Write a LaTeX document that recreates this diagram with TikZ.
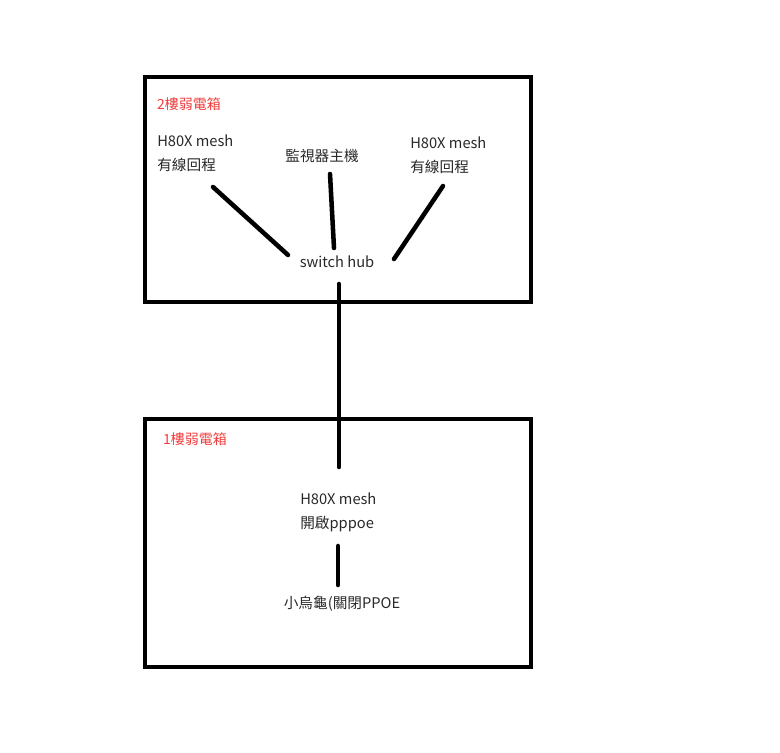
\documentclass[tikz,border=0pt]{standalone}
\usepackage{fontspec}
\setmainfont{Noto Sans CJK TC}
\usepackage{tikz}
\usetikzlibrary{positioning}
\definecolor{boxred}{RGB}{240,60,60}
\definecolor{txtgray}{RGB}{40,40,40}

\begin{document}
\begin{tikzpicture}[x=0.75pt,y=-0.75pt,
		box/.style={draw,line width=3pt},
		wire/.style={line width=3.4pt,line cap=round},
		label node/.style={text=txtgray,font=\fontsize{11}{18}\selectfont,inner sep=0pt},
		floor node/.style={text=boxred,font=\fontsize{10.5}{12}\selectfont,inner sep=0pt}]
		\useasboundingbox (0,0) rectangle (780,752);

		% boxes
		\draw[box] (145,77) rectangle (531,302);
		\draw[box] (145,419) rectangle (531,667);
		\node[floor node] (f2) at (189,104) {2樓弱電箱};
		\node[floor node] (f1) at (195,439) {1樓弱電箱};

		% 2F
		\node[label node,align=left,anchor=west] (meshl) at (157,153) {H80X mesh\\有線回程};
		\node[label node] (nvr) at (322,156) {監視器主機};
		\node[label node,align=left,anchor=west] (meshr) at (410,155) {H80X mesh\\有線回程};
		\node[label node] (hub) at (337,262) {switch hub};

		% 1F
		\node[label node,align=left,anchor=west] (mesh1) at (300,512) {H80X mesh\\開啟pppoe};
		\node[label node] (turtle) at (342,604) {小烏龜(關閉PPOE};

		\coordinate (a1) at (213,187); \coordinate (a2) at (288,255);
		\coordinate (b1) at (330,174); \coordinate (b2) at (334,248);
		\coordinate (c1) at (443,186); \coordinate (c2) at (394,259);
		\coordinate (d1) at (339,284); \coordinate (d2) at (339,467);
		\coordinate (e1) at (338,546); \coordinate (e2) at (338,585);
		\draw[wire] (a1) -- (a2);
		\draw[wire] (b1) -- (b2);
		\draw[wire] (c1) -- (c2);
		\draw[wire] (d1) -- (d2);
		\draw[wire] (e1) -- (e2);
\end{tikzpicture}
\end{document}
